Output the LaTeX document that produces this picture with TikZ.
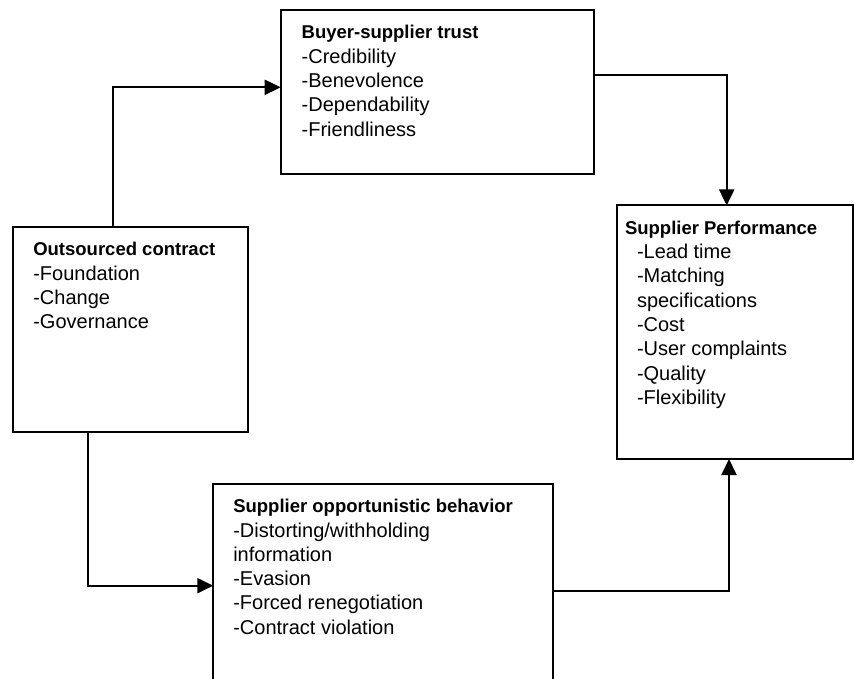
\documentclass[tikz,border=0pt]{standalone}
\usepackage{fontspec}
\setmainfont{Liberation Sans}
\usetikzlibrary{arrows.meta}
\tikzset{
  box/.style={draw=black, line width=2pt, rectangle, anchor=north west, inner sep=0pt, outer sep=0pt},
  lbl/.style={anchor=base west, align=left, inner sep=0pt, outer sep=0pt, font=\fontsize{20}{24.3}\selectfont},
  arr/.style={draw=black, line width=2pt, -{Triangle[length=16pt,width=15pt]}},
}
\newcommand{\ttl}[1]{{\fontsize{18.5}{24.3}\selectfont\bfseries #1}}
\begin{document}
\begin{tikzpicture}[x=1pt,y=-1pt]
\useasboundingbox (0,0) rectangle (854,679);
% boxes
\node[box, minimum width=313.6pt, minimum height=164pt] (trust) at (280.7,10) {};
\node[box, minimum width=236pt, minimum height=253.5pt] (perf) at (617.3,205.5) {};
\node[box, minimum width=235.6pt, minimum height=204.4pt] (oc) at (12.7,227.3) {};
\node[box, minimum width=340pt, minimum height=220pt] (opp) at (213.3,484) {};
% texts (anchored at the baseline of the last line)
\node[lbl] (ttrust) at (301.7,136.2) {\ttl{Buyer-supplier trust}\\-Credibility\\-Benevolence\\-Dependability\\-Friendliness};
\node[lbl] (toc) at (33.3,328.6) {\ttl{Outsourced contract}\\-Foundation\\-Change\\-Governance};
\node[lbl] (tperf) at (625,404.4) {\ttl{Supplier Performance}\\\hspace*{12pt}-Lead time\\\hspace*{12pt}-Matching\\\hspace*{12pt}specifications\\\hspace*{12pt}-Cost\\\hspace*{12pt}-User complaints\\\hspace*{12pt}-Quality\\\hspace*{12pt}-Flexibility};
\node[lbl] (topp) at (233.3,634.2) {\ttl{Supplier opportunistic behavior}\\-Distorting/withholding\\information\\-Evasion\\-Forced renegotiation\\-Contract violation};
% connectors
\draw[arr] (oc.north -| 112.7,0) |- (trust.west |- 0,87.3);
\draw[arr] (trust.east |- 0,75) -| (perf.north -| 726.7,0);
\draw[arr] (oc.south -| 87.7,0) |- (opp.west |- 0,585.7);
\draw[arr] (opp.east |- 0,590.7) -| (perf.south -| 729,0);
\end{tikzpicture}
\end{document}
